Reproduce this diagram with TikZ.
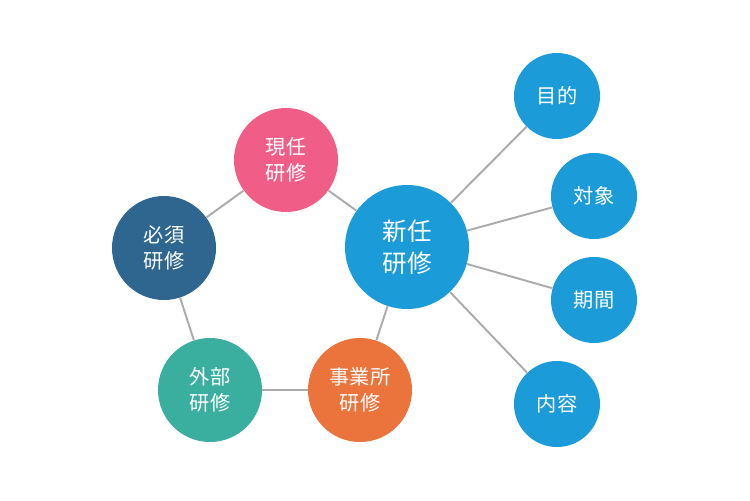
\documentclass[tikz,border=0pt]{standalone}
\usepackage{fontspec}
\setmainfont{Noto Sans CJK JP}
\begin{document}
\begin{tikzpicture}[x=0.02cm,y=-0.02cm,
  circ/.style={circle,inner sep=0pt,text=white,align=center,font=\fontsize{11.5}{15}\selectfont},
  link/.style={draw=black!33,line width=1.1pt}]
\useasboundingbox[fill=white] (0,0) rectangle (750,500);
\definecolor{cblue}{HTML}{1B9BD7}
\node[circ,fill=cblue,minimum size=124*0.02cm,font=\fontsize{14}{18}\selectfont] (s) at (407,247) {新任\\研修};
\node[circ,fill={rgb,255:red,240;green,94;blue,136},minimum size=104*0.02cm] (g) at (286,160) {現任\\研修};
\node[circ,fill={rgb,255:red,46;green,102;blue,144},minimum size=104*0.02cm] (h) at (164,248) {必須\\研修};
\node[circ,fill={rgb,255:red,58;green,175;blue,160},minimum size=104*0.02cm] (o) at (210,390) {外部\\研修};
\node[circ,fill={rgb,255:red,235;green,116;blue,60},minimum size=104*0.02cm] (j) at (360,390) {事業所\\研修};
\node[circ,fill=cblue,minimum size=86*0.02cm] (a) at (557,96) {目的};
\node[circ,fill=cblue,minimum size=86*0.02cm] (b) at (594,196) {対象};
\node[circ,fill=cblue,minimum size=86*0.02cm] (c) at (594,300) {期間};
\node[circ,fill=cblue,minimum size=86*0.02cm] (d) at (557,404) {内容};
\begin{scope}[on background layer/.style={}]
\end{scope}
\foreach \p/\q in {s/g,g/h,h/o,o/j,j/s,s/a,s/b,s/c,s/d}{\draw[link] (\p) -- (\q);}
\end{tikzpicture}
\end{document}
